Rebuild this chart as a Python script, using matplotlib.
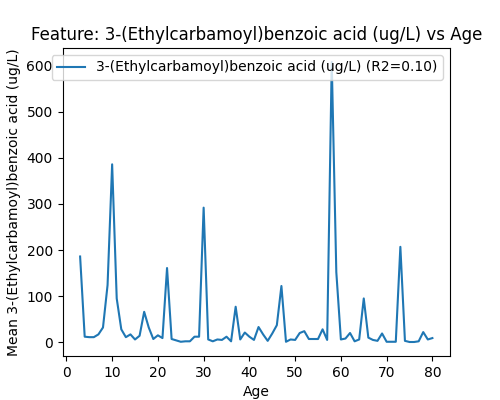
import numpy as np
import matplotlib
matplotlib.use('Agg')
import matplotlib.pyplot as plt

feature = '3-(Ethylcarbamoyl)benzoic acid (ug/L)'
r2 = 0.10

ages = list(range(3, 81))
mean_vals = [
    186, 12, 11, 11, 17, 32, 124, 386, 95, 28,     # 3-12
    11, 17, 6, 14, 66, 32, 7, 15, 9, 161,          # 13-22
    7, 4, 1, 2, 2, 12, 12, 292, 6, 2,              # 23-32
    6, 5, 12, 2, 77, 6, 21, 12, 5, 33,             # 33-42
    17, 3, 19, 37, 122, 1, 6, 5, 20, 24,           # 43-52
    7, 7, 7, 28, 5, 608, 152, 6, 8, 20,            # 53-62
    2, 6, 95, 10, 5, 3, 19, 1, 1, 1,               # 63-72
    207, 3, 0.5, 0.5, 2, 22, 6, 9,                 # 73-80
]

fig, ax = plt.subplots(figsize=(5, 4), dpi=100)
ax.plot(ages, mean_vals, label='%s (R2=%.2f)' % (feature, r2))
ax.set_title('Feature: %s vs Age' % feature)
ax.set_xlabel('Age')
ax.set_ylabel('Mean %s' % feature)
ax.legend(loc='upper right')

fig.savefig('out.png', dpi=100)
